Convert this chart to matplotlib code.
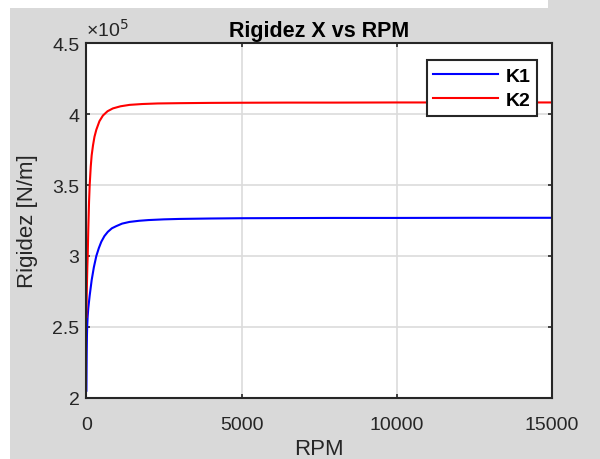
import matplotlib
matplotlib.use("Agg")
import matplotlib.pyplot as plt
from matplotlib.patches import Rectangle

plt.rcParams['font.family'] = ['Liberation Sans', 'DejaVu Sans']

rpm_k1 = [0, 5, 10, 18, 25, 40, 60, 105, 170, 240, 320, 400, 480, 580, 690, 820, 960, 1150, 1390, 1700, 2000, 2500, 3000, 4000, 5000, 6500, 8000, 10000, 12500, 15000]
k1 = [2.05, 2.20, 2.32, 2.44, 2.50, 2.57, 2.63, 2.72, 2.83, 2.92, 3.00, 3.055, 3.10, 3.14, 3.17, 3.195, 3.21, 3.228, 3.24, 3.248, 3.253, 3.258, 3.261, 3.264, 3.266, 3.267, 3.268, 3.268, 3.269, 3.269]

rpm_k2 = [0, 5, 10, 20, 30, 42, 60, 85, 106, 140, 170, 213, 260, 320, 420, 533, 680, 853, 1100, 1390, 1800, 2300, 3000, 4000, 5000, 6500, 8000, 10000, 12500, 15000]
k2 = [2.57, 2.65, 2.72, 2.83, 2.92, 3.00, 3.18, 3.38, 3.50, 3.63, 3.71, 3.78, 3.84, 3.89, 3.95, 3.99, 4.02, 4.04, 4.055, 4.065, 4.071, 4.075, 4.077, 4.079, 4.080, 4.081, 4.081, 4.082, 4.082, 4.082]

xticks = [0, 5000, 10000, 15000]
yticks = [2, 2.5, 3, 3.5, 4, 4.5]
ytick_labels = ['2', '2.5', '3', '3.5', '4', '4.5']

bg = '#d9d9d9'
txt = '#262626'

fig = plt.figure(figsize=(6, 4.6), dpi=100, facecolor=bg)
# white screenshot margins (left and top)
fig.patches.append(Rectangle((0, 0), 10 / 600, 1, transform=fig.transFigure,
                             facecolor='white', edgecolor='none', zorder=-10))
fig.patches.append(Rectangle((0, 1 - 9 / 460), 548 / 600, 9 / 460, transform=fig.transFigure,
                             facecolor='white', edgecolor='none', zorder=-10))

ax = fig.add_axes([0.144, 0.133, 0.776, 0.771])
ax.set_facecolor('white')

ax.plot(rpm_k1, [v * 1e5 for v in k1], color='#0000ff', lw=1.5, label='K1')
ax.plot(rpm_k2, [v * 1e5 for v in k2], color='#ff0000', lw=1.5, label='K2')

ax.set_xlim(0, 15000)
ax.set_ylim(2e5, 4.5e5)
ax.set_xticks(xticks)
ax.set_xticklabels([str(t) for t in xticks])
ax.set_yticks([t * 1e5 for t in yticks])
ax.set_yticklabels(ytick_labels)
ax.grid(True, color='#dcdcdc', lw=1.2)
ax.set_axisbelow(True)

for s in ax.spines.values():
    s.set_color('#262626')
    s.set_linewidth(1.5)
ax.tick_params(direction='in', length=3, width=1.2, colors='#262626',
               labelsize=14, labelcolor=txt, top=True, right=True,
               labeltop=False, labelright=False)
ax.tick_params(axis='x', pad=13)
ax.tick_params(axis='y', pad=5)

ax.set_xlabel('RPM', fontsize=16, color=txt, labelpad=4)
ax.set_ylabel('Rigidez [N/m]', fontsize=16, color=txt, labelpad=10)
ax.set_title('Rigidez X vs RPM', fontsize=15.5, fontweight='bold', color='black', pad=5)
ax.text(0.0, 1.01, '×10$^5$', transform=ax.transAxes, fontsize=14, color=txt,
        ha='left', va='bottom')

leg = ax.legend(loc='upper right', bbox_to_anchor=(0.968, 0.952), fancybox=False,
                framealpha=1, edgecolor='#262626', prop={'weight': 'bold', 'size': 14},
                handlelength=3.3, handletextpad=0.4, borderpad=0.35, labelspacing=0.35,
                borderaxespad=0)
leg.get_frame().set_linewidth(1.5)

fig.savefig('out.png', dpi=100, facecolor=bg)
